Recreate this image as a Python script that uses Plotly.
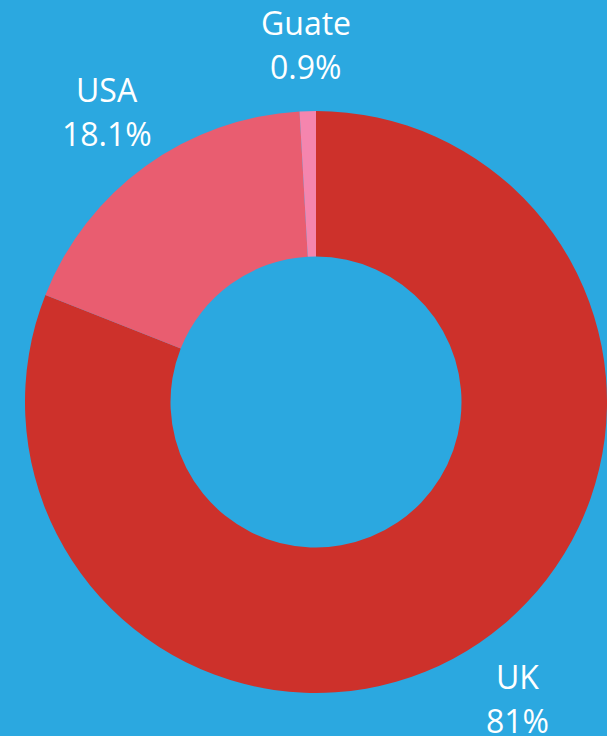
import math
import plotly.graph_objects as go

# shares by country (percent)
countries = ["UK", "USA", "Guate"]
shares = [81, 18.1, 0.9]
colors = ["#CD312B", "#E95D70", "#F585AE"]

BG = "#2BA8E0"
W, H = 607, 736
# donut placement in pixels
CX, CY, R = 316, 402, 291
LABEL_R = 1.23 * R
LINE_GAP = 22

fig = go.Figure()
fig.add_trace(
    go.Pie(
        labels=countries,
        values=shares,
        hole=0.5,
        sort=False,
        direction="clockwise",
        rotation=0,
        marker=dict(colors=colors, line=dict(width=0)),
        textinfo="none",
        hoverinfo="label+percent",
        showlegend=False,
        domain=dict(
            x=[(CX - R) / W, (CX + R) / W],
            y=[1 - (CY + R) / H, 1 - (CY - R) / H],
        ),
    )
)

# labels sit outside the ring at each slice's mid angle
total = sum(shares)
start = 0.0
annotations = []
for name, v in zip(countries, shares):
    frac = v / total
    mid = (start + frac / 2) * 2 * math.pi
    start += frac
    px = CX + LABEL_R * math.sin(mid)
    py = CY - LABEL_R * math.cos(mid)
    for txt, dy in [(name, -LINE_GAP), (f"{v:g}%", LINE_GAP)]:
        annotations.append(
            dict(
                x=px / W,
                y=1 - (py + dy) / H,
                xref="paper",
                yref="paper",
                text=txt,
                showarrow=False,
                xanchor="center",
                yanchor="middle",
                font=dict(family="Open Sans", size=32, color="white"),
            )
        )

fig.update_layout(
    width=W,
    height=H,
    margin=dict(l=0, r=0, t=0, b=0),
    paper_bgcolor=BG,
    plot_bgcolor=BG,
    annotations=annotations,
)

# drop the default page margin so the figure fills the window
fix_page = (
    "document.body.style.margin='0';"
    "document.body.style.overflow='hidden';"
    f"document.body.style.background='{BG}';"
)
fig.write_html("out.html", post_script=fix_page, config={"displayModeBar": False})
